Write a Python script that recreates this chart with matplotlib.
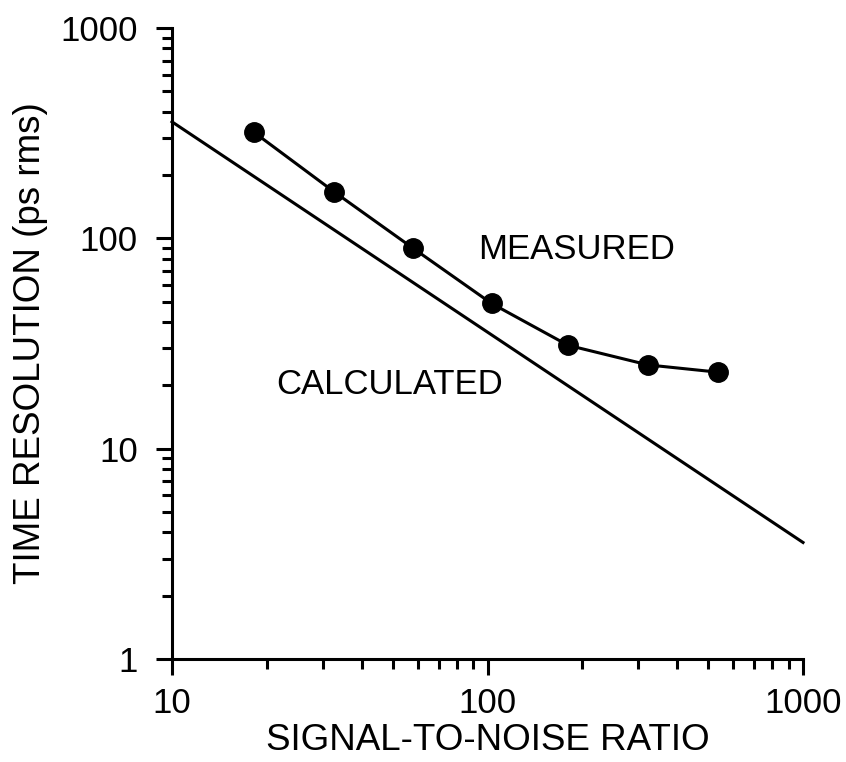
import matplotlib.pyplot as plt

# measured time resolution vs signal-to-noise ratio
snr_measured = [18.2, 32.7, 57.9, 103, 180, 323, 537]
res_measured = [319, 166, 90, 49, 31, 25, 23.1]

# calculated curve (straight line on log-log)
snr_calc = [10, 1000]
res_calc = [358, 3.58]

x_ticks = [10, 100, 1000]
y_ticks = [1, 10, 100, 1000]


def main():
    plt.rcParams['font.family'] = ['Liberation Sans', 'DejaVu Sans']
    fig = plt.figure(figsize=(8.46, 7.62), dpi=100)
    ax = fig.add_axes([0.2033, 0.1352, 0.9492 - 0.2033, 0.9633 - 0.1352])

    ax.plot(snr_calc, res_calc, color='black', lw=2.2, clip_on=False)
    ax.plot(snr_measured, res_measured, color='black', lw=2.2,
            marker='o', markersize=14)

    ax.set_xscale('log')
    ax.set_yscale('log')
    ax.set_xlim(10, 1000)
    ax.set_ylim(1, 1000)
    ax.set_xticks(x_ticks)
    ax.set_xticklabels([str(t) for t in x_ticks])
    ax.set_yticks(y_ticks)
    ax.set_yticklabels([str(t) for t in y_ticks])

    for side in ['top', 'right']:
        ax.spines[side].set_visible(False)
    for side in ['left', 'bottom']:
        ax.spines[side].set_linewidth(2.2)

    ax.tick_params(which='major', length=11.5, width=2.2, labelsize=25)
    ax.tick_params(which='minor', length=7, width=2.2)
    ax.tick_params(axis='y', which='major', pad=13)
    ax.tick_params(axis='x', which='major', pad=9)

    ax.set_xlabel('SIGNAL-TO-NOISE RATIO', fontsize=26.5, labelpad=2)
    ax.set_ylabel('TIME RESOLUTION (ps rms)', fontsize=26.5, labelpad=9)

    ax.text(192, 88, 'MEASURED', fontsize=25, ha='center', va='center')
    ax.text(49, 20.1, 'CALCULATED', fontsize=25, ha='center', va='center')

    fig.savefig('out.png', dpi=100)


if __name__ == '__main__':
    main()
